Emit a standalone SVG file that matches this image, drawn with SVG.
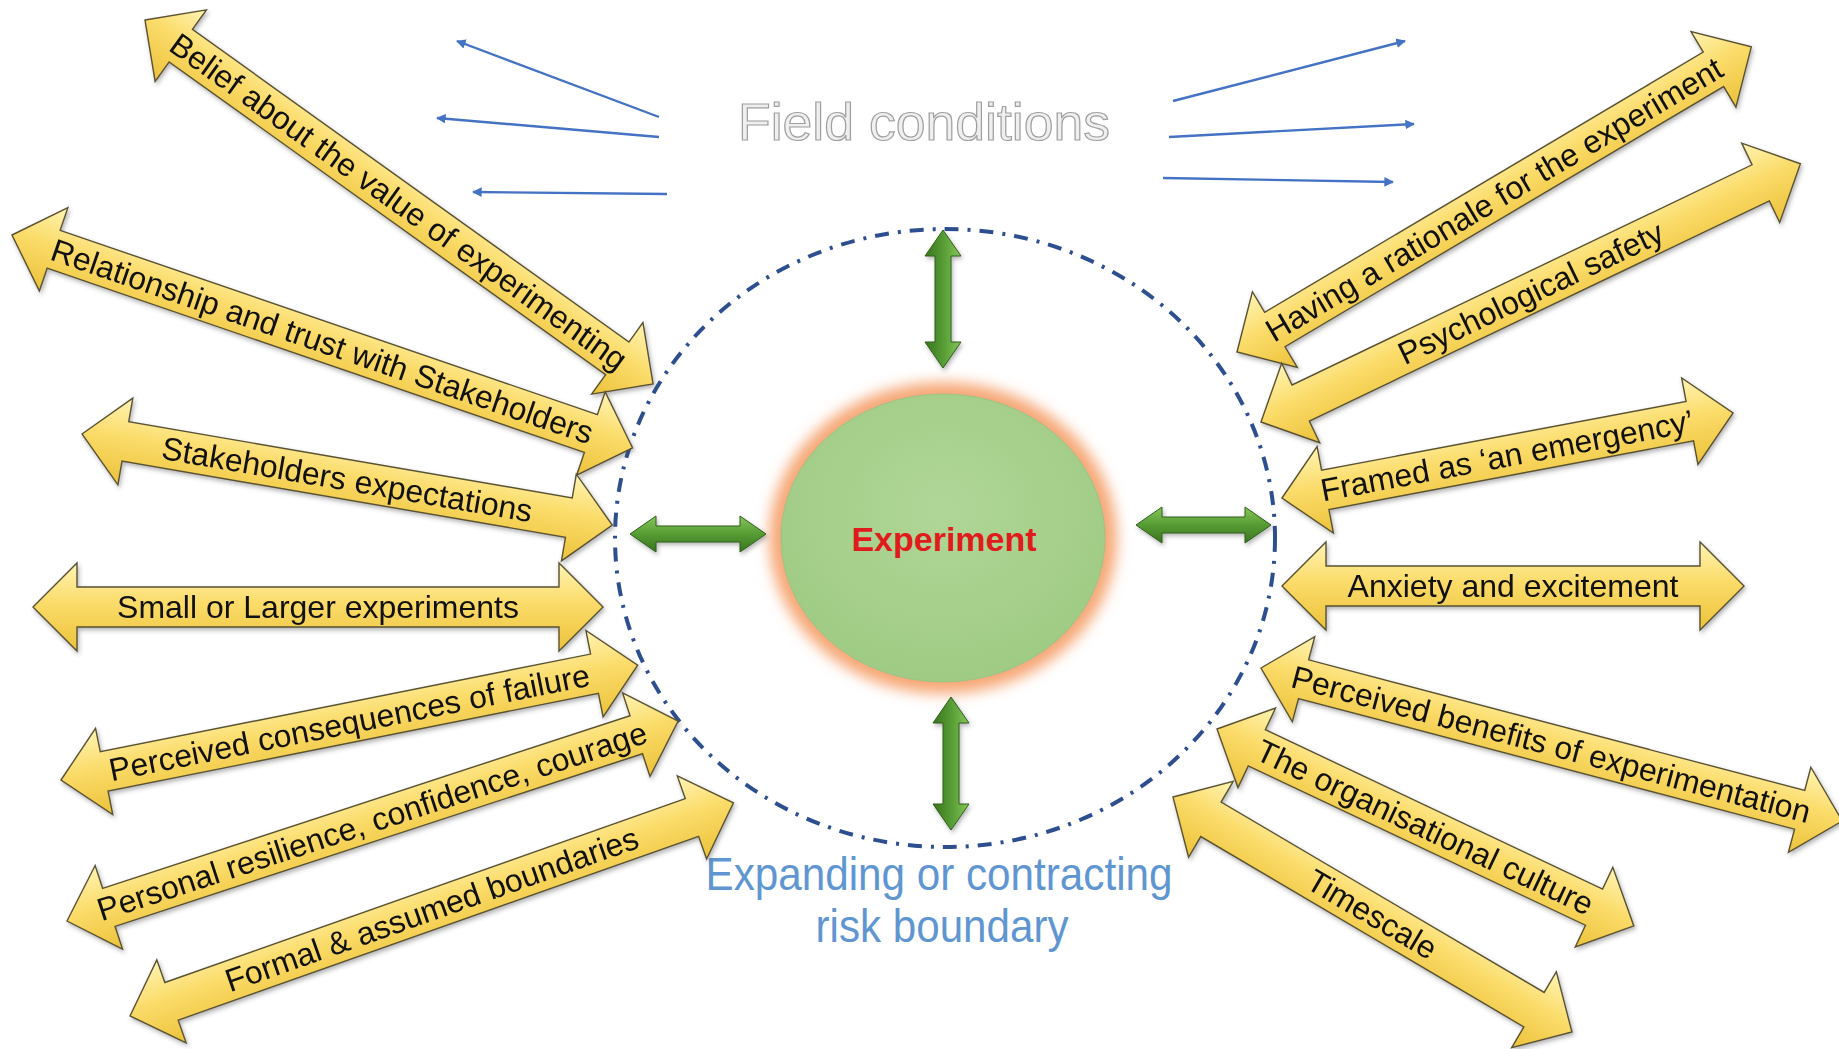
<svg xmlns="http://www.w3.org/2000/svg" width="1839" height="1049" viewBox="0 0 1839 1049">
  <defs>
    <style>
      .gold { fill: url(#goldFill); stroke: #5a5232; stroke-width: 1.4; stroke-linejoin: miter; }
      .green { fill: url(#greenFill); stroke: #2f5f1a; stroke-width: 1; }
      .lbl { font-family: "Liberation Sans", Arial, sans-serif; font-size: 32px; fill: #111111; text-anchor: middle; dominant-baseline: central; }
      .flow { stroke: #4472c4; stroke-width: 2.4; fill: none; marker-end: url(#bh); }
      .title { font-family: "Liberation Sans", Arial, sans-serif; text-anchor: middle; }
    </style>
    <linearGradient id="goldFill" x1="0" y1="0" x2="0" y2="1">
      <stop offset="0" stop-color="#fff4b4"/>
      <stop offset="0.45" stop-color="#fbdc6a"/>
      <stop offset="1" stop-color="#ecc23a"/>
    </linearGradient>
    <linearGradient id="greenFill" x1="0" y1="0" x2="0" y2="1">
      <stop offset="0" stop-color="#86c65a"/>
      <stop offset="0.5" stop-color="#559c33"/>
      <stop offset="1" stop-color="#3a7420"/>
    </linearGradient>
    <radialGradient id="coreFill" cx="0.5" cy="0.4" r="0.6">
      <stop offset="0" stop-color="#b0d697"/>
      <stop offset="1" stop-color="#9fcb84"/>
    </radialGradient>
    <filter id="sh" x="-10%" y="-10%" width="125%" height="130%">
      <feDropShadow dx="1.5" dy="2.5" stdDeviation="2" flood-color="#444" flood-opacity="0.4"/>
    </filter>
    <filter id="glow" x="-20%" y="-20%" width="140%" height="140%">
      <feGaussianBlur stdDeviation="7"/>
    </filter>
    <marker id="bh" viewBox="0 0 10 10" refX="9" refY="5" markerWidth="4" markerHeight="4" orient="auto" markerUnits="strokeWidth">
      <path d="M0,0 L10,5 L0,10 z" fill="#4472c4"/>
    </marker>
  </defs>

  <rect width="1839" height="1049" fill="#ffffff"/>

  <!-- risk boundary -->
  <g id="boundary">
    <ellipse cx="945" cy="538" rx="330" ry="309" fill="none" stroke="#2e4f8f" stroke-width="4" stroke-dasharray="14 9 3 9"/>
  </g>

  <!-- central experiment -->
  <g id="experiment">
    <ellipse cx="943" cy="538" rx="174" ry="156" fill="#f6a877" filter="url(#glow)"/>
    <ellipse cx="943" cy="538" rx="162" ry="144" fill="url(#coreFill)" stroke="#9cc484" stroke-width="1"/>
    <text x="944" y="551" font-family="Liberation Sans, Arial, sans-serif" font-size="34" font-weight="bold" fill="#e01b1b" text-anchor="middle">Experiment</text>
  </g>

  <!-- headings -->
  <g id="field-conditions">
    <text class="title" x="924" y="140" font-size="52" textLength="372" lengthAdjust="spacingAndGlyphs" fill="#efefef" stroke="#a0a0a0" stroke-width="1.2">Field conditions</text>
  </g>
  <g id="risk-boundary-label">
    <text class="title" x="939" y="890" font-size="46" textLength="467" lengthAdjust="spacingAndGlyphs" fill="#5f96d2">Expanding or contracting</text>
    <text class="title" x="942" y="942" font-size="46" textLength="253" lengthAdjust="spacingAndGlyphs" fill="#5f96d2">risk boundary</text>
  </g>

  <!-- connectors: field-condition flows and boundary pushes -->
  <g id="connectors">
    <line class="flow" x1="659" y1="117" x2="457" y2="41"/>
    <line class="flow" x1="659" y1="137" x2="437" y2="118"/>
    <line class="flow" x1="667" y1="194" x2="473" y2="192"/>
    <line class="flow" x1="1173" y1="101" x2="1405" y2="41"/>
    <line class="flow" x1="1169" y1="137" x2="1414" y2="124"/>
    <line class="flow" x1="1163" y1="178" x2="1393" y2="182"/>
    <g filter="url(#sh)">
      <path class="green" transform="translate(943,230) rotate(90)" d="M0,0 L26,-18 L26,-8 L112,-8 L112,-18 L138,0 L112,18 L112,8 L26,8 L26,18 Z"/>
      <path class="green" transform="translate(951,697) rotate(90)" d="M0,0 L26,-18 L26,-8 L107,-8 L107,-18 L133,0 L107,18 L107,8 L26,8 L26,18 Z"/>
      <path class="green" transform="translate(630,534)" d="M0,0 L26,-18 L26,-8 L110,-8 L110,-18 L136,0 L110,18 L110,8 L26,8 L26,18 Z"/>
      <path class="green" transform="translate(1136,525)" d="M0,0 L26,-18 L26,-8 L109,-8 L109,-18 L135,0 L109,18 L109,8 L26,8 L26,18 Z"/>
    </g>
  </g>

  <!-- left-hand factors -->
  <g id="belief">
    <g filter="url(#sh)"><path class="gold" transform="translate(145,20) rotate(35.62)" d="M0,0 L44,-44 L44,-20 L581,-20 L581,-44 L625,0 L581,44 L581,20 L44,20 L44,44 Z"/></g>
    <text class="lbl" transform="translate(145,20) rotate(35.62)" x="312" y="0">Belief about the value of experimenting</text>
  </g>
  <g id="relationship">
    <g filter="url(#sh)"><path class="gold" transform="translate(12,235) rotate(18.93)" d="M0,0 L44,-44 L44,-20 L612,-20 L612,-44 L656,0 L612,44 L612,20 L44,20 L44,44 Z"/></g>
    <text class="lbl" transform="translate(12,235) rotate(18.93)" x="328" y="0">Relationship and trust with Stakeholders</text>
  </g>
  <g id="expectations">
    <g filter="url(#sh)"><path class="gold" transform="translate(82,434) rotate(9.74)" d="M0,0 L44,-44 L44,-20 L494,-20 L494,-44 L538,0 L494,44 L494,20 L44,20 L44,44 Z"/></g>
    <text class="lbl" transform="translate(82,434) rotate(9.74)" x="269" y="0">Stakeholders expectations</text>
  </g>
  <g id="scale">
    <g filter="url(#sh)"><path class="gold" transform="translate(33,607)" d="M0,0 L44,-44 L44,-20 L526,-20 L526,-44 L570,0 L526,44 L526,20 L44,20 L44,44 Z"/></g>
    <text class="lbl" transform="translate(33,607)" x="285" y="0">Small or Larger experiments</text>
  </g>
  <g id="consequences">
    <g filter="url(#sh)"><path class="gold" transform="translate(61,780) rotate(-11.27)" d="M0,0 L44,-44 L44,-20 L544,-20 L544,-44 L588,0 L544,44 L544,20 L44,20 L44,44 Z"/></g>
    <text class="lbl" transform="translate(61,780) rotate(-11.27)" x="294" y="0">Perceived consequences of failure</text>
  </g>
  <g id="resilience">
    <g filter="url(#sh)"><path class="gold" transform="translate(67,921) rotate(-18.12)" d="M0,0 L44,-44 L44,-20 L599,-20 L599,-44 L643,0 L599,44 L599,20 L44,20 L44,44 Z"/></g>
    <text class="lbl" transform="translate(67,921) rotate(-18.12)" x="321" y="0">Personal resilience, confidence, courage</text>
  </g>
  <g id="boundaries">
    <g filter="url(#sh)"><path class="gold" transform="translate(130,1016) rotate(-19.46)" d="M0,0 L44,-44 L44,-20 L596,-20 L596,-44 L640,0 L596,44 L596,20 L44,20 L44,44 Z"/></g>
    <text class="lbl" transform="translate(130,1016) rotate(-19.46)" x="320" y="0">Formal &amp; assumed boundaries</text>
  </g>

  <!-- right-hand factors -->
  <g id="rationale">
    <g filter="url(#sh)"><path class="gold" transform="translate(1237,352) rotate(-30.68)" d="M0,0 L44,-44 L44,-20 L554,-20 L554,-44 L598,0 L554,44 L554,20 L44,20 L44,44 Z"/></g>
    <text class="lbl" transform="translate(1237,352) rotate(-30.68)" x="299" y="0">Having a rationale for the experiment</text>
  </g>
  <g id="safety">
    <g filter="url(#sh)"><path class="gold" transform="translate(1261,422) rotate(-25.58)" d="M0,0 L44,-44 L44,-20 L554,-20 L554,-44 L598,0 L554,44 L554,20 L44,20 L44,44 Z"/></g>
    <text class="lbl" transform="translate(1261,422) rotate(-25.58)" x="299" y="0">Psychological safety</text>
  </g>
  <g id="emergency">
    <g filter="url(#sh)"><path class="gold" transform="translate(1282,498) rotate(-10.67)" d="M0,0 L44,-44 L44,-20 L415,-20 L415,-44 L459,0 L415,44 L415,20 L44,20 L44,44 Z"/></g>
    <text class="lbl" transform="translate(1282,498) rotate(-10.67)" x="229" y="0">Framed as ‘an emergency’</text>
  </g>
  <g id="anxiety">
    <g filter="url(#sh)"><path class="gold" transform="translate(1282,586)" d="M0,0 L44,-44 L44,-20 L418,-20 L418,-44 L462,0 L418,44 L418,20 L44,20 L44,44 Z"/></g>
    <text class="lbl" transform="translate(1282,586)" x="231" y="0">Anxiety and excitement</text>
  </g>
  <g id="benefits">
    <g filter="url(#sh)"><path class="gold" transform="translate(1261,668) rotate(14.75)" d="M0,0 L44,-44 L44,-20 L557,-20 L557,-44 L601,0 L557,44 L557,20 L44,20 L44,44 Z"/></g>
    <text class="lbl" transform="translate(1261,668) rotate(14.75)" x="300" y="0">Perceived benefits of experimentation</text>
  </g>
  <g id="culture">
    <g filter="url(#sh)"><path class="gold" transform="translate(1217,729) rotate(25.29)" d="M0,0 L44,-44 L44,-20 L417,-20 L417,-44 L461,0 L417,44 L417,20 L44,20 L44,44 Z"/></g>
    <text class="lbl" transform="translate(1217,729) rotate(25.29)" x="230" y="0">The organisational culture</text>
  </g>
  <g id="timescale">
    <g filter="url(#sh)"><path class="gold" transform="translate(1173,797) rotate(30.5)" d="M0,0 L44,-44 L44,-20 L419,-20 L419,-44 L463,0 L419,44 L419,20 L44,20 L44,44 Z"/></g>
    <text class="lbl" transform="translate(1173,797) rotate(30.5)" x="231" y="0">Timescale</text>
  </g>
</svg>
